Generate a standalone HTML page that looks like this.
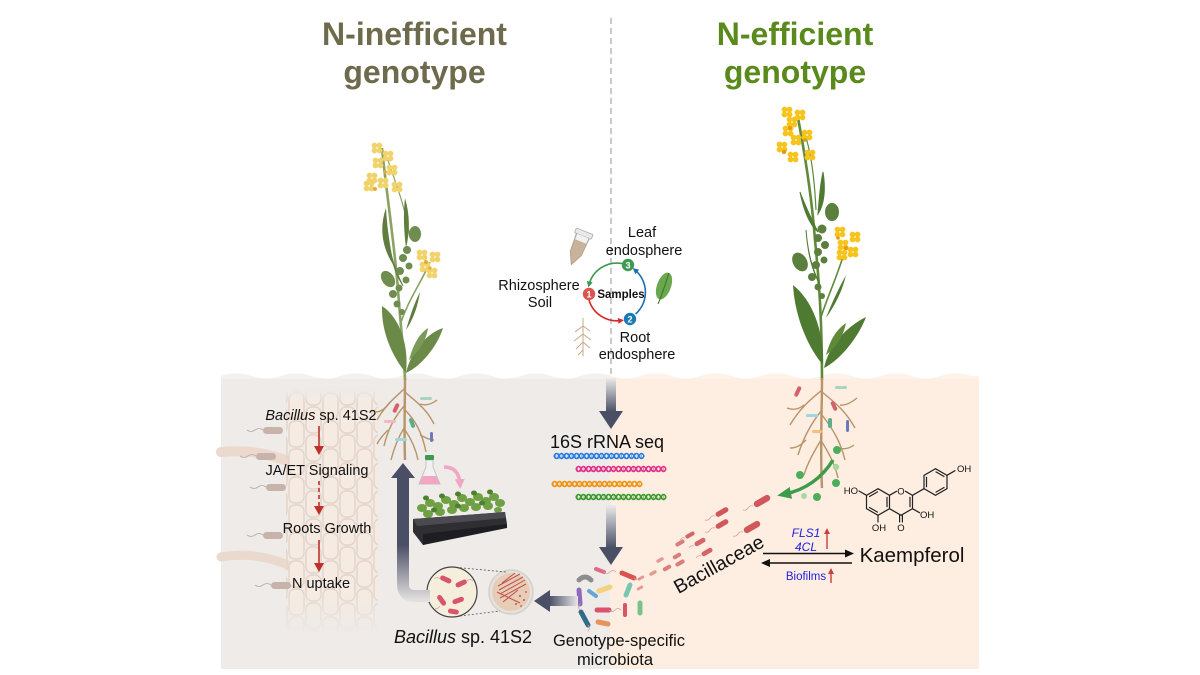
<!DOCTYPE html>
<html><head><meta charset="utf-8"><style>
html,body{margin:0;padding:0;background:#fff;}
svg{display:block;}
text{font-family:"Liberation Sans",Arial,sans-serif;}
</style></head><body>
<svg width="1200" height="675" viewBox="0 0 1200 675" xmlns="http://www.w3.org/2000/svg">
<defs>
  <clipPath id="soil">
    <path d="M221,376 Q236,371 251,376 T281,376 T311,376 T341,376 T371,376 T401,376 T431,376 T461,376 T491,376 T521,376 T551,376 T581,376 T611,376 T641,376 T671,376 T701,376 T731,376 T761,376 T791,376 T821,376 T851,376 T881,376 T911,376 T941,376 T971,376 L979,376 L979,669 L221,669 Z"/>
  </clipPath>
  <linearGradient id="gLeft" gradientUnits="userSpaceOnUse" x1="0" y1="545" x2="0" y2="600">
    <stop offset="0" stop-color="#4a4f66"/><stop offset="1" stop-color="#e2e0df"/>
  </linearGradient>
  <linearGradient id="gDown1" gradientUnits="userSpaceOnUse" x1="0" y1="378" x2="0" y2="412">
    <stop offset="0" stop-color="#ecebec"/><stop offset="1" stop-color="#4a4f66"/>
  </linearGradient>
  <linearGradient id="gDown2" gradientUnits="userSpaceOnUse" x1="0" y1="505" x2="0" y2="548">
    <stop offset="0" stop-color="#ecebec"/><stop offset="1" stop-color="#4a4f66"/>
  </linearGradient>
  <linearGradient id="gLeftArr" gradientUnits="userSpaceOnUse" x1="549" y1="0" x2="578" y2="0">
    <stop offset="0" stop-color="#4a4f66"/><stop offset="1" stop-color="#e8e6e6"/>
  </linearGradient>
  <linearGradient id="fadeV" x1="0" y1="0" x2="0" y2="1">
    <stop offset="0" stop-color="#fff" stop-opacity="0"/><stop offset="0.05" stop-color="#fff" stop-opacity="1"/>
    <stop offset="0.82" stop-color="#fff" stop-opacity="1"/><stop offset="1" stop-color="#fff" stop-opacity="0"/>
  </linearGradient>
  <mask id="cellMask"><rect x="286" y="390" width="92" height="244" fill="url(#fadeV)"/></mask>
  <pattern id="cells" patternUnits="userSpaceOnUse" x="288" y="392" width="34" height="28">
    <rect x="1" y="1" width="15" height="26" rx="6" fill="#f5ebe2" stroke="#e6d3c5" stroke-width="1.4"/>
    <rect x="18" y="-13" width="15" height="26" rx="6" fill="#f5ebe2" stroke="#e6d3c5" stroke-width="1.4"/>
    <rect x="18" y="15" width="15" height="26" rx="6" fill="#f5ebe2" stroke="#e6d3c5" stroke-width="1.4"/>
  </pattern>
  <g id="fl"><circle cx="-2.5" cy="-2.5" r="2.9"/><circle cx="2.5" cy="-2.5" r="2.9"/><circle cx="-2.5" cy="2.5" r="2.9"/><circle cx="2.5" cy="2.5" r="2.9"/></g>
  <marker id="mG" markerWidth="6" markerHeight="6" refX="3" refY="3" orient="auto" markerUnits="userSpaceOnUse"><path d="M0,0 L6,3 L0,6 Z" fill="#3c9a4e"/></marker>
  <marker id="mR" markerWidth="6" markerHeight="6" refX="3" refY="3" orient="auto" markerUnits="userSpaceOnUse"><path d="M0,0 L6,3 L0,6 Z" fill="#d42a2a"/></marker>
  <marker id="mB" markerWidth="6" markerHeight="6" refX="3" refY="3" orient="auto" markerUnits="userSpaceOnUse"><path d="M0,0 L6,3 L0,6 Z" fill="#1a6fb5"/></marker>
  <marker id="mK" markerWidth="9" markerHeight="8" refX="7" refY="4" orient="auto" markerUnits="userSpaceOnUse"><path d="M0,0 L9,4 L0,8 Z" fill="#111"/></marker>
  <marker id="mP" markerWidth="10" markerHeight="10" refX="5" refY="5" orient="auto" markerUnits="userSpaceOnUse"><path d="M0,0 L10,5 L0,10 Z" fill="#f2a6c6"/></marker>
  <marker id="mGr" markerWidth="14" markerHeight="12" refX="6" refY="6" orient="auto" markerUnits="userSpaceOnUse"><path d="M0,0 L14,6 L0,12 Z" fill="#3f9b4c"/></marker>
</defs>

<!-- titles -->
<text x="414.5" y="45" font-size="32" font-weight="bold" fill="#6d6b4b" text-anchor="middle">N-inefficient</text>
<text x="414.5" y="83" font-size="32" font-weight="bold" fill="#6d6b4b" text-anchor="middle">genotype</text>
<text x="795" y="45" font-size="32" font-weight="bold" fill="#5a8a1c" text-anchor="middle">N-efficient</text>
<text x="795" y="83" font-size="32" font-weight="bold" fill="#5a8a1c" text-anchor="middle">genotype</text>

<!-- dashed divider -->
<line x1="611" y1="18" x2="611" y2="378" stroke="#b3b3b3" stroke-width="1.4" stroke-dasharray="6,4"/>

<!-- soil -->
<g clip-path="url(#soil)">
  <rect x="221" y="360" width="390" height="320" fill="#eeebe8"/>
  <rect x="610" y="360" width="370" height="320" fill="#fdeee1"/>
  <rect x="221" y="370" width="390" height="9" fill="#f3f1ee"/>
  <rect x="610" y="370" width="370" height="9" fill="#fdf2e8"/>
</g>

<!-- root cells -->
<path d="M221,452 C245,450 265,452 290,462" stroke="#ead9cc" stroke-width="10" fill="none" stroke-linecap="round"/>
<path d="M221,557 C245,553 268,556 290,566" stroke="#ead9cc" stroke-width="9" fill="none" stroke-linecap="round"/>
<rect x="286" y="390" width="92" height="244" fill="url(#cells)" mask="url(#cellMask)"/>
<!-- grey bacteria left -->
<g fill="#c7b3aa">
  <rect x="263" y="427" width="20" height="7" rx="3.5"/>
  <rect x="256" y="453" width="20" height="7" rx="3.5"/>
  <rect x="266" y="484" width="20" height="7" rx="3.5"/>
  <rect x="263" y="532" width="20" height="7" rx="3.5"/>
  <rect x="271" y="582" width="20" height="7" rx="3.5"/>
</g>
<g stroke="#b7a9a2" stroke-width="0.8" fill="none">
  <path d="M263,430 q-4,-3 -8,0 t-8,0"/><path d="M256,456 q-4,-3 -8,0 t-8,0"/><path d="M266,487 q-4,-3 -8,0 t-8,0"/><path d="M263,535 q-4,-3 -8,0 t-8,0"/><path d="M271,585 q-4,-3 -8,0 t-8,0"/>
</g>

<!-- left pathway text -->
<text x="321" y="420" font-size="14.5" text-anchor="middle" fill="#111"><tspan font-style="italic">Bacillus</tspan> sp. 41S2</text>
<line x1="319" y1="426" x2="319" y2="447" stroke="#c0302b" stroke-width="1.6"/><path d="M314,446 L324,446 L319,455 Z" fill="#c0302b"/>
<text x="317" y="475" font-size="14.5" text-anchor="middle" fill="#111">JA/ET Signaling</text>
<line x1="319" y1="481" x2="319" y2="507" stroke="#c0302b" stroke-width="1.6" stroke-dasharray="4,3"/><path d="M314,506 L324,506 L319,515 Z" fill="#c0302b"/>
<text x="327" y="533" font-size="14.5" text-anchor="middle" fill="#111">Roots Growth</text>
<line x1="319" y1="540" x2="319" y2="564" stroke="#c0302b" stroke-width="1.6"/><path d="M314,563 L324,563 L319,572 Z" fill="#c0302b"/>
<text x="321" y="588" font-size="14.5" text-anchor="middle" fill="#111">N uptake</text>

<!-- left plant -->
<g>
  <path d="M382,148 C386,190 394,240 398,290 C401,330 404,355 405,380" stroke="#8aa363" stroke-width="2.6" fill="none"/>
  <path d="M400,325 C408,300 420,285 430,262" stroke="#8aa363" stroke-width="1.6" fill="none"/>
  <path d="M388,160 C394,180 404,200 410,238" stroke="#8aa363" stroke-width="1.2" fill="none"/>
  <path d="M386,208 C379,228 382,248 394,266 C390,246 387,228 386,208 Z" fill="#5f7d3e"/>
  <path d="M405,198 C410,215 410,232 406,248 C404,232 403,215 405,198 Z" fill="#5f7d3e"/>
  <path d="M390,250 C392,262 396,275 403,286 C398,276 393,263 390,250 Z" fill="#5f7d3e" stroke="#5f7d3e" stroke-width="1"/>
  <path d="M420,292 C418,305 414,318 406,330 C410,316 414,304 420,292 Z" fill="#5f7d3e"/>
  <ellipse cx="415" cy="234" rx="6" ry="8" fill="#6f8d4f"/>
  <g fill="#6f8d4f">
    <circle cx="407" cy="250" r="4"/><circle cx="403" cy="258" r="4"/><circle cx="409" cy="266" r="3.5"/><circle cx="400" cy="271" r="4"/><circle cx="406" cy="280" r="3.5"/><circle cx="399" cy="288" r="3.5"/>
    <circle cx="393" cy="294" r="4"/><circle cx="397" cy="304" r="3.5"/><circle cx="402" cy="312" r="3"/>
  </g>
  <ellipse cx="388" cy="279" rx="6" ry="9" transform="rotate(-35 388 279)" fill="#6f8d4f"/>
  <path d="M382,306 C400,318 409,345 406,373 C395,360 381,335 382,306 Z" fill="#6b8a48"/>
  <path d="M443,328 C428,333 411,350 406,373 C421,366 437,347 443,328 Z" fill="#6b8a48"/>
  <path d="M409,360 C413,345 419,334 428,328 C426,342 418,352 409,360 Z" fill="#7b9a58"/>
  <g fill="#f1d36c">
    <use href="#fl" x="377" y="148"/><use href="#fl" x="388" y="156"/><use href="#fl" x="378" y="163"/><use href="#fl" x="392" y="170"/>
    <use href="#fl" x="372" y="178"/><use href="#fl" x="397" y="187"/><use href="#fl" x="383" y="183"/><use href="#fl" x="369" y="186"/>
    <use href="#fl" x="422" y="255"/><use href="#fl" x="435" y="257"/><use href="#fl" x="425" y="267"/><use href="#fl" x="432" y="273"/>
  </g>
  <g fill="#e6a93c"><circle cx="375" cy="189" r="2"/><circle cx="385" cy="172" r="1.8"/><circle cx="426" cy="262" r="2"/><circle cx="430" cy="268" r="1.6"/></g>
  <!-- roots -->
  <g stroke="#b8946a" fill="none" stroke-width="1.4">
    <path d="M405,378 C405,400 404,430 405,460" stroke-width="2.4"/>
    <path d="M405,388 C395,398 386,404 377,420"/><path d="M405,392 C416,402 426,408 434,424"/>
    <path d="M405,405 C396,415 388,428 384,446"/><path d="M405,410 C415,420 422,432 426,452"/>
    <path d="M404,428 C398,438 394,448 391,460"/><path d="M405,430 C412,440 416,450 418,460"/>
    <path d="M390,402 C385,410 380,412 375,412"/><path d="M420,404 C426,406 432,404 437,400"/>
    <path d="M388,430 C382,436 379,440 377,444"/><path d="M420,435 C426,438 430,440 434,440"/>
  </g>
  <g>
    <rect x="394" y="403" width="4" height="10" rx="2" fill="#d5626a" transform="rotate(25 396 408)"/>
    <rect x="420" y="397" width="12" height="3" rx="1.5" fill="#a7d4c4"/>
    <rect x="410" y="418" width="4" height="10" rx="2" fill="#5cae8a" transform="rotate(-20 412 423)"/>
    <rect x="384" y="420" width="12" height="3" rx="1.5" fill="#f1b8c4"/>
    <rect x="430" y="432" width="3" height="10" rx="1.5" fill="#6c7ab8"/>
    <rect x="395" y="438" width="12" height="3" rx="1.5" fill="#9fd5e0"/>
  </g>
</g>

<!-- right plant -->
<g>
  <path d="M798,118 C806,160 812,200 815,240 C819,280 822,320 822,380" stroke="#5f8a3a" stroke-width="2.6" fill="none"/>
  <path d="M820,320 C828,295 838,275 845,250" stroke="#5f8a3a" stroke-width="1.6" fill="none"/>
  <path d="M804,130 C810,150 814,170 816,210" stroke="#5f8a3a" stroke-width="1.2" fill="none"/>
  <path d="M800,192 C804,212 810,225 818,232 C812,220 806,208 800,192 Z" fill="#4f7a32" stroke="#4f7a32" stroke-width="1"/>
  <path d="M823,172 C826,190 824,205 818,214 C819,200 820,186 823,172 Z" fill="#4f7a32" stroke="#4f7a32" stroke-width="1"/>
  <path d="M806,230 C808,255 812,270 820,285 C813,270 808,255 806,230 Z" fill="#4f7a32" stroke="#4f7a32" stroke-width="1"/>
  <path d="M846,275 C842,292 835,305 826,318 C832,302 838,290 846,275 Z" fill="#4f7a32"/>
  <ellipse cx="832" cy="212" rx="7" ry="9" fill="#5b7f3c"/>
  <ellipse cx="800" cy="262" rx="7" ry="10" transform="rotate(-30 800 262)" fill="#5b7f3c"/>
  <g fill="#5b7f3c">
    <circle cx="822" cy="229" r="4.5"/><circle cx="818" cy="238" r="4"/><circle cx="825" cy="245" r="4"/><circle cx="818" cy="252" r="4"/>
    <circle cx="824" cy="260" r="3.5"/><circle cx="816" cy="265" r="4"/><circle cx="812" cy="277" r="4"/><circle cx="818" cy="287" r="3.5"/><circle cx="822" cy="296" r="3"/>
  </g>
  <path d="M793,285 C812,300 824,330 823,365 C810,350 795,320 793,285 Z" fill="#4f7a32"/>
  <path d="M866,317 C848,326 829,344 824,368 C840,360 858,338 866,317 Z" fill="#4f7a32"/>
  <path d="M826,355 C830,340 836,330 846,323 C843,338 835,348 826,355 Z" fill="#5f8a3a"/>
  <g fill="#f6c41c">
    <use href="#fl" x="787" y="112"/><use href="#fl" x="800" y="115"/><use href="#fl" x="792" y="122"/><use href="#fl" x="788" y="131"/>
    <use href="#fl" x="807" y="135"/><use href="#fl" x="782" y="147"/><use href="#fl" x="796" y="140"/><use href="#fl" x="810" y="155"/><use href="#fl" x="793" y="157"/>
    <use href="#fl" x="840" y="232"/><use href="#fl" x="855" y="237"/><use href="#fl" x="843" y="245"/><use href="#fl" x="853" y="252"/><use href="#fl" x="842" y="255"/>
  </g>
  <g fill="#e49a0e"><circle cx="784" cy="152" r="2.2"/><circle cx="790" cy="128" r="2"/><circle cx="805" cy="140" r="1.8"/><circle cx="846" cy="248" r="2"/><circle cx="838" cy="238" r="1.8"/></g>
  <!-- roots -->
  <g stroke="#b8946a" fill="none" stroke-width="1.4">
    <path d="M822,378 C822,410 820,450 822,488" stroke-width="2.4"/>
    <path d="M822,390 C810,400 800,408 790,425"/><path d="M822,392 C834,402 845,410 855,428"/>
    <path d="M822,410 C812,422 804,436 798,455"/><path d="M822,415 C832,428 840,440 845,460"/>
    <path d="M821,440 C814,452 808,462 804,475"/><path d="M822,442 C830,455 835,465 838,478"/>
    <path d="M804,405 C798,410 792,410 787,408"/><path d="M840,405 C846,406 852,402 857,398"/>
    <path d="M806,440 C800,446 796,448 790,448"/><path d="M838,448 C845,450 850,448 854,445"/>
  </g>
  <g>
    <rect x="796" y="386" width="4" height="11" rx="2" fill="#d5626a" transform="rotate(25 798 391)"/>
    <rect x="835" y="386" width="12" height="3" rx="1.5" fill="#a7d4c4"/>
    <rect x="832" y="401" width="4" height="10" rx="2" fill="#d5626a" transform="rotate(-25 834 406)"/>
    <rect x="806" y="414" width="12" height="3" rx="1.5" fill="#9fd5e0"/>
    <rect x="846" y="420" width="3" height="12" rx="1.5" fill="#6c7ab8"/>
    <rect x="828" y="418" width="4" height="10" rx="2" fill="#5cae8a"/>
    <rect x="812" y="430" width="10" height="3" rx="1.5" fill="#f1c27a"/>
  </g>
</g>

<!-- sample cycle -->
<g>
  <path d="M622,263.5 A29,29 0 0 0 589,284.5" stroke="#3c9a4e" stroke-width="1.6" fill="none" marker-end="url(#mG)"/>
  <path d="M589,300 A29,29 0 0 0 621,320.5" stroke="#d42a2a" stroke-width="1.6" fill="none" marker-end="url(#mR)"/>
  <path d="M635.6,314 A29,29 0 0 0 635,270" stroke="#1a6fb5" stroke-width="1.6" fill="none" marker-end="url(#mB)"/>
  <circle cx="589" cy="294" r="6.2" fill="#d9534f"/><text x="589" y="297.5" font-size="9" font-weight="bold" fill="#fff" text-anchor="middle">1</text>
  <circle cx="628" cy="265" r="6.2" fill="#3e9a4e"/><text x="628" y="268.5" font-size="9" font-weight="bold" fill="#fff" text-anchor="middle">3</text>
  <circle cx="630" cy="319" r="6.2" fill="#1a7ab8"/><text x="630" y="322.5" font-size="9" font-weight="bold" fill="#fff" text-anchor="middle">2</text>
  <text x="621" y="298" font-size="11.5" font-weight="bold" fill="#111" text-anchor="middle">Samples</text>
  <!-- tube -->
  <g transform="rotate(22 578 248)">
    <path d="M571,234 L585,234 L584,254 L578,266 L572,254 Z" fill="#c8b29a" stroke="#b0a090" stroke-width="0.8"/>
    <rect x="569" y="230" width="18" height="5" rx="1" fill="#e9e9e9" stroke="#a9a9a9" stroke-width="0.8"/>
    <rect x="572" y="235" width="12" height="6" fill="#f1f1f1"/>
  </g>
  <!-- leaf -->
  <ellipse cx="664" cy="286" rx="7" ry="14" transform="rotate(20 664 286)" fill="#6aa84f"/>
  <path d="M669,273 C665,285 662,295 658,304" stroke="#3f6e2e" stroke-width="1" fill="none"/>
  <!-- root icon -->
  <g stroke="#c8a98a" stroke-width="1" fill="none">
    <path d="M583,318 L583,356"/><path d="M583,326 L575,332"/><path d="M583,326 L590,331"/><path d="M583,334 L574,341"/><path d="M583,334 L591,340"/><path d="M583,342 L576,349"/><path d="M583,342 L590,348"/><path d="M583,350 L578,355"/>
  </g>
  <text x="642" y="237" font-size="14.5" fill="#111" text-anchor="middle">Leaf</text>
  <text x="644" y="255" font-size="14.5" fill="#111" text-anchor="middle">endosphere</text>
  <text x="539" y="290" font-size="14.5" fill="#111" text-anchor="middle">Rhizosphere</text>
  <text x="540" y="307" font-size="14.5" fill="#111" text-anchor="middle">Soil</text>
  <text x="635" y="342" font-size="14.5" fill="#111" text-anchor="middle">Root</text>
  <text x="637" y="359" font-size="14.5" fill="#111" text-anchor="middle">endosphere</text>
</g>

<!-- center arrows -->
<rect x="606" y="378" width="10" height="35" fill="url(#gDown1)"/>
<path d="M599,411 L623,411 L611,429 Z" fill="#4a4f66"/>
<text x="607" y="448" font-size="18" fill="#111" text-anchor="middle">16S rRNA seq</text>
<!-- DNA helices -->
<g fill="none" stroke-width="1.6">
  <g stroke="#2a7de1">
    <line x1="555" y1="456" x2="642" y2="456" stroke-width="6" stroke-dasharray="1,2.3" opacity="0.55"/>
    <path d="M554,456 q2.5,-5 5,0 t5,0 t5,0 t5,0 t5,0 t5,0 t5,0 t5,0 t5,0 t5,0 t5,0 t5,0 t5,0 t5,0 t5,0 t5,0 t5,0 t5,0"/>
    <path d="M554,456 q2.5,5 5,0 t5,0 t5,0 t5,0 t5,0 t5,0 t5,0 t5,0 t5,0 t5,0 t5,0 t5,0 t5,0 t5,0 t5,0 t5,0 t5,0 t5,0"/>
  </g>
  <g stroke="#e0308a">
    <line x1="577" y1="469" x2="664" y2="469" stroke-width="6" stroke-dasharray="1,2.3" opacity="0.55"/>
    <path d="M576,469 q2.5,-5 5,0 t5,0 t5,0 t5,0 t5,0 t5,0 t5,0 t5,0 t5,0 t5,0 t5,0 t5,0 t5,0 t5,0 t5,0 t5,0 t5,0 t5,0"/>
    <path d="M576,469 q2.5,5 5,0 t5,0 t5,0 t5,0 t5,0 t5,0 t5,0 t5,0 t5,0 t5,0 t5,0 t5,0 t5,0 t5,0 t5,0 t5,0 t5,0 t5,0"/>
  </g>
  <g stroke="#f0920f">
    <line x1="553" y1="484" x2="640" y2="484" stroke-width="6" stroke-dasharray="1,2.3" opacity="0.55"/>
    <path d="M552,484 q2.5,-5 5,0 t5,0 t5,0 t5,0 t5,0 t5,0 t5,0 t5,0 t5,0 t5,0 t5,0 t5,0 t5,0 t5,0 t5,0 t5,0 t5,0 t5,0"/>
    <path d="M552,484 q2.5,5 5,0 t5,0 t5,0 t5,0 t5,0 t5,0 t5,0 t5,0 t5,0 t5,0 t5,0 t5,0 t5,0 t5,0 t5,0 t5,0 t5,0 t5,0"/>
  </g>
  <g stroke="#3b9a2c">
    <line x1="577" y1="497" x2="664" y2="497" stroke-width="6" stroke-dasharray="1,2.3" opacity="0.55"/>
    <path d="M576,497 q2.5,-5 5,0 t5,0 t5,0 t5,0 t5,0 t5,0 t5,0 t5,0 t5,0 t5,0 t5,0 t5,0 t5,0 t5,0 t5,0 t5,0 t5,0 t5,0"/>
    <path d="M576,497 q2.5,5 5,0 t5,0 t5,0 t5,0 t5,0 t5,0 t5,0 t5,0 t5,0 t5,0 t5,0 t5,0 t5,0 t5,0 t5,0 t5,0 t5,0 t5,0"/>
  </g>
</g>
<rect x="606" y="505" width="10" height="44" fill="url(#gDown2)"/>
<path d="M599,547 L623,547 L611,565 Z" fill="#4a4f66"/>

<!-- microbiota cluster -->
<g stroke-linecap="round" fill="none">
  <path d="M579,580 q6,-6 12,0" stroke="#8d8d8d" stroke-width="5"/>
  <line x1="596" y1="569" x2="604" y2="572" stroke="#e06a84" stroke-width="4"/>
  <line x1="622" y1="573" x2="634" y2="578" stroke="#d9534f" stroke-width="5"/>
  <line x1="589" y1="591" x2="596" y2="596" stroke="#6aa3d5" stroke-width="4"/>
  <line x1="599" y1="591" x2="610" y2="587" stroke="#f2d27a" stroke-width="5"/>
  <line x1="626" y1="595" x2="630" y2="585" stroke="#7cc6b0" stroke-width="5"/>
  <line x1="579" y1="590" x2="580" y2="604" stroke="#8e6bbf" stroke-width="5"/>
  <line x1="581" y1="612" x2="588" y2="625" stroke="#2f6b8a" stroke-width="5"/>
  <line x1="597" y1="610" x2="609" y2="610" stroke="#d9536a" stroke-width="5"/>
  <line x1="625" y1="605" x2="625" y2="615" stroke="#d9536a" stroke-width="4"/>
  <line x1="640" y1="603" x2="640" y2="613" stroke="#7cc08a" stroke-width="5"/>
  <line x1="598" y1="622" x2="608" y2="624" stroke="#e8935a" stroke-width="5"/>
  <g stroke="#c9a3a3" stroke-width="0.8">
    <path d="M604,572 q3,3 6,0 t6,0"/><path d="M634,578 q3,3 6,0"/><path d="M609,610 q3,3 6,0 t6,0"/><path d="M580,604 q-3,3 0,6"/><path d="M588,625 q3,3 0,6"/>
  </g>
</g>

<!-- left arrow to petri -->
<rect x="548" y="596" width="30" height="10" fill="url(#gLeftArr)"/>
<path d="M534,601 L550,590 L550,612 Z" fill="#4a4f66"/>

<!-- petri dish -->
<circle cx="511" cy="592" r="22" fill="#e6e1dc" stroke="#d4d0cc" stroke-width="1.5"/>
<circle cx="511" cy="592" r="19" fill="#e8cdb6"/>
<g stroke="#c0504d" stroke-width="1" fill="none">
  <path d="M498,586 L520,574"/><path d="M499,590 L523,577"/><path d="M500,594 L525,580"/><path d="M500,598 L526,584"/>
  <path d="M502,583 L515,573"/><path d="M503,602 L518,590"/><path d="M497,592 L520,603"/>
</g>
<g fill="#c0504d"><circle cx="520" cy="596" r="1"/><circle cx="524" cy="600" r="1"/><circle cx="516" cy="604" r="1"/><circle cx="521" cy="606" r="0.9"/><circle cx="526" cy="592" r="0.9"/></g>
<!-- zoom circle -->
<line x1="452" y1="567" x2="506" y2="572" stroke="#555" stroke-width="0.8" stroke-dasharray="2,2"/>
<line x1="452" y1="617" x2="500" y2="611" stroke="#555" stroke-width="0.8" stroke-dasharray="2,2"/>
<circle cx="452" cy="592" r="25" fill="#f6eedd" stroke="#444" stroke-width="1.2"/>
<g fill="#d8566a">
  <rect x="440" y="577" width="12" height="5" rx="2.5" transform="rotate(25 446 579)"/>
  <rect x="455" y="581" width="12" height="5" rx="2.5" transform="rotate(-25 461 583)"/>
  <rect x="436" y="598" width="12" height="5" rx="2.5" transform="rotate(55 442 600)"/>
  <rect x="452" y="598" width="12" height="5" rx="2.5" transform="rotate(-20 458 600)"/>
  <rect x="448" y="609" width="11" height="5" rx="2.5" transform="rotate(10 453 611)"/>
</g>
<g stroke="#c9a3a3" stroke-width="0.7" fill="none"><path d="M440,579 q-3,-3 -6,0"/><path d="M467,581 q3,-3 6,0"/><path d="M440,606 q-2,3 -5,3"/></g>

<!-- big left curved arrow -->
<path d="M430,596 L415,596 Q403,596 403,584 L403,476" stroke="url(#gLeft)" stroke-width="12" fill="none"/>
<path d="M391,478 L415,478 L403,463 Z" fill="#4a4f66"/>

<!-- flask and tray -->
<path d="M444,467 Q459,467 460,484" stroke="#f2a6c6" stroke-width="3.5" fill="none" marker-end="url(#mP)"/>
<path d="M426,460 L433,460 L433,467 L440,484 L419,484 L426,467 Z" fill="#f3f0f0" stroke="#bbb" stroke-width="0.8"/>
<path d="M423,476 L436,476 L440,484 L419,484 Z" fill="#f1a7c3"/>
<rect x="425" y="455" width="9" height="5" rx="1" fill="#3e9a4e"/>
<g>
  <g fill="#6fa043">
    <ellipse cx="422" cy="508" rx="5" ry="4"/><ellipse cx="430" cy="503" rx="5" ry="4"/><ellipse cx="438" cy="506" rx="5" ry="4"/><ellipse cx="446" cy="500" rx="5" ry="4"/>
    <ellipse cx="454" cy="504" rx="5" ry="4"/><ellipse cx="462" cy="498" rx="5" ry="4"/><ellipse cx="470" cy="502" rx="5" ry="4"/><ellipse cx="478" cy="497" rx="5" ry="4"/>
    <ellipse cx="486" cy="501" rx="5" ry="4"/><ellipse cx="494" cy="497" rx="5" ry="4"/><ellipse cx="500" cy="503" rx="5" ry="4"/>
    <ellipse cx="428" cy="514" rx="5" ry="4"/><ellipse cx="440" cy="512" rx="5" ry="4"/><ellipse cx="452" cy="510" rx="5" ry="4"/><ellipse cx="464" cy="508" rx="5" ry="4"/>
    <ellipse cx="476" cy="507" rx="5" ry="4"/><ellipse cx="488" cy="506" rx="5" ry="4"/><ellipse cx="498" cy="510" rx="4" ry="3"/>
  </g>
  <g fill="#4f7f30">
    <ellipse cx="426" cy="498" rx="3" ry="2.5"/><ellipse cx="442" cy="496" rx="3" ry="2.5"/><ellipse cx="458" cy="494" rx="3" ry="2.5"/><ellipse cx="474" cy="493" rx="3" ry="2.5"/><ellipse cx="490" cy="492" rx="3" ry="2.5"/>
    <ellipse cx="434" cy="510" rx="3" ry="2.5"/><ellipse cx="458" cy="506" rx="3" ry="2.5"/><ellipse cx="482" cy="503" rx="3" ry="2.5"/>
  </g>
  <path d="M413,519 L505,512 L507,524 L423,545 L413,532 Z" fill="#2f2f33"/>
  <path d="M413,519 L505,512 L506,518 L417,526 Z" fill="#4a4a50"/>
  <path d="M423,534 L507,524 L507,528 L423,545 Z" fill="#1e1e22"/>
</g>

<!-- bottom labels -->
<text x="463" y="643" font-size="18" fill="#111" text-anchor="middle"><tspan font-style="italic">Bacillus</tspan> sp. 41S2</text>
<text x="619" y="646" font-size="16.5" fill="#111" text-anchor="middle">Genotype-specific</text>
<text x="615" y="665" font-size="16.5" fill="#111" text-anchor="middle">microbiota</text>

<!-- green exudate arrow and dots -->
<path d="M833,460 C822,478 805,490 785,494" stroke="#3f9b4c" stroke-width="3.5" fill="none" marker-end="url(#mGr)"/>
<g fill="#4cae5a">
  <circle cx="800" cy="475" r="4"/><circle cx="837" cy="450" r="4"/><circle cx="836" cy="483" r="4"/><circle cx="817" cy="497" r="4"/>
</g>
<g fill="#a6d8a6"><circle cx="836" cy="467" r="3.2"/><circle cx="804" cy="496" r="3"/></g>

<!-- Bacillaceae trail -->
<g fill="#d0585a">
  <rect x="-9" y="-3.2" width="18" height="6.4" rx="3.2" transform="translate(762,501) rotate(-30)"/>
  <rect x="-9" y="-3.2" width="18" height="6.4" rx="3.2" transform="translate(752,527) rotate(-30)"/>
  <rect x="-7" y="-2.6" width="14" height="5.2" rx="2.6" transform="translate(722,512) rotate(-30)"/>
  <rect x="-7" y="-2.6" width="14" height="5.2" rx="2.6" transform="translate(722,524) rotate(-30)"/>
  <g opacity="0.9">
    <rect x="-6" y="-2.4" width="12" height="4.8" rx="2.4" transform="translate(707,552) rotate(-30)"/>
    <rect x="-6" y="-2.4" width="12" height="4.8" rx="2.4" transform="translate(700,542) rotate(-30)"/>
    <rect x="-5" y="-2" width="10" height="4" rx="2" transform="translate(690,535) rotate(-30)"/>
  </g>
  <g opacity="0.75">
    <rect x="-5" y="-2" width="10" height="4" rx="2" transform="translate(680,543) rotate(-30)"/>
    <rect x="-5" y="-2" width="10" height="4" rx="2" transform="translate(680,563) rotate(-30)"/>
    <rect x="-4.5" y="-2" width="9" height="4" rx="2" transform="translate(677,556) rotate(-30)"/>
    <rect x="-4.5" y="-2" width="9" height="4" rx="2" transform="translate(667,568) rotate(-30)"/>
  </g>
  <g opacity="0.55">
    <rect x="-4" y="-1.7" width="8" height="3.4" rx="1.7" transform="translate(660,560) rotate(-30)"/>
    <rect x="-4" y="-1.7" width="8" height="3.4" rx="1.7" transform="translate(653,573) rotate(-30)"/>
    <rect x="-3.5" y="-1.5" width="7" height="3" rx="1.5" transform="translate(641,578) rotate(-30)"/>
    <rect x="-3.5" y="-1.5" width="7" height="3" rx="1.5" transform="translate(640,588) rotate(-30)"/>
  </g>
</g>
<g stroke="#dca0a0" stroke-width="0.8" fill="none">
  <path d="M753,506 q-3,-1 -5,2 t-5,2"/><path d="M743,532 q-3,-1 -5,2 t-5,2"/><path d="M715,516 q-3,-1 -5,2 t-5,2"/><path d="M715,528 q-3,-1 -5,2 t-5,2"/>
  <path d="M701,556 q-3,-1 -5,2"/><path d="M694,546 q-3,-1 -5,2"/><path d="M685,538 q-3,-1 -5,2"/>
</g>
<text x="0" y="0" font-size="19.5" fill="#111" text-anchor="middle" transform="translate(722,570) rotate(-29)">Bacillaceae</text>

<!-- FLS1 / 4CL / arrows -->
<text x="806" y="537" font-size="12" font-style="italic" fill="#1f1fe0" text-anchor="middle">FLS1</text>
<text x="806" y="551" font-size="12" font-style="italic" fill="#1f1fe0" text-anchor="middle">4CL</text>
<line x1="827" y1="549" x2="827" y2="533" stroke="#c8403c" stroke-width="1.4"/><path d="M824,534 L830,534 L827,528 Z" fill="#c8403c"/>
<line x1="763" y1="553.5" x2="852" y2="553.5" stroke="#111" stroke-width="1.6" marker-end="url(#mK)"/>
<line x1="852" y1="563" x2="763" y2="563" stroke="#111" stroke-width="1.6" marker-end="url(#mK)"/>
<text x="806" y="580" font-size="11.5" fill="#1f1fe0" text-anchor="middle">Biofilms</text>
<line x1="831" y1="583" x2="831" y2="573" stroke="#c8403c" stroke-width="1.4"/><path d="M828,574 L834,574 L831,568 Z" fill="#c8403c"/>
<text x="912" y="562" font-size="20.5" fill="#111" text-anchor="middle">Kaempferol</text>

<!-- kaempferol structure -->
<g stroke="#222" stroke-width="1.2" fill="none" stroke-linecap="round">
  <path d="M878,488.7 L889.5,495.3 L889.5,508.7 L878,515.3 L866.5,508.7 L866.5,495.3 Z"/>
  <path d="M869.5,496.5 L877.5,491.9"/><path d="M877.5,512.1 L869.5,507.5"/><path d="M887,497.3 L887,506.7"/>
  <path d="M889.5,495.3 L896.5,491.3"/><path d="M905.5,491.3 L912.5,495.3 L912.5,508.7 L901,515.3 L889.5,508.7"/>
  <path d="M910,497.3 L910,506.7"/>
  <path d="M912.5,495.3 L924,488.7"/>
  <path d="M935.5,468.7 L947,475.3 L947,488.7 L935.5,495.3 L924,488.7 L924,475.3 Z"/>
  <path d="M936,471.9 L944,476.5"/><path d="M944,487.5 L936,492.1"/><path d="M926.5,486.7 L926.5,477.3"/>
  <path d="M947,475.3 L955,470.7"/>
  <path d="M866.5,495.3 L859,491"/>
  <path d="M878,515.3 L878,522"/>
  <path d="M899.6,515.3 L899.6,522"/><path d="M902.4,515.3 L902.4,522"/>
  <path d="M912.5,508.7 L919.5,512.7"/>
</g>
<g font-size="9.5" fill="#111">
  <text x="901" y="494.5" text-anchor="middle">O</text>
  <text x="957" y="472">OH</text>
  <text x="858" y="494" text-anchor="end">HO</text>
  <text x="879" y="531" text-anchor="middle">OH</text>
  <text x="901" y="531" text-anchor="middle">O</text>
  <text x="920" y="518">OH</text>
</g>
</svg>
</body></html>
